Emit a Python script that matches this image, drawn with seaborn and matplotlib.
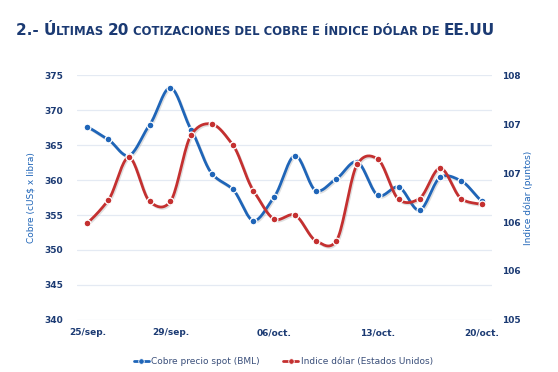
import numpy as np
import pandas as pd
import matplotlib
matplotlib.use("Agg")
import matplotlib.pyplot as plt
import matplotlib.patheffects as pe
from matplotlib.lines import Line2D
import seaborn as sns

# ---------- data ----------
fechas = ["25/sep.", "26/sep.", "27/sep.", "28/sep.", "29/sep.",
          "02/oct.", "03/oct.", "04/oct.", "05/oct.", "06/oct.",
          "09/oct.", "10/oct.", "11/oct.", "12/oct.", "13/oct.",
          "16/oct.", "17/oct.", "18/oct.", "19/oct.", "20/oct."]
cobre = [367.6, 365.8, 363.5, 367.9, 373.2, 367.2, 360.9, 358.7, 354.2, 357.6,
         363.5, 358.5, 360.2, 362.6, 357.8, 359.0, 355.7, 360.4, 359.9, 357.0]
dolar = [105.99, 106.22, 106.66, 106.21, 106.21, 106.89, 107.00, 106.79, 106.32, 106.03,
         106.07, 105.81, 105.81, 106.59, 106.64, 106.23, 106.24, 106.55, 106.24, 106.18]
xtick_idx = [0, 4, 9, 14, 19]
left_ticks = [340, 345, 350, 355, 360, 365, 370, 375]
right_ticks = [105, 105.5, 106, 106.5, 107, 107.5]
right_labels = ["105", "106", "106", "107", "107", "108"]

AZUL = "#1f65b8"
ROJO = "#c43030"
NAVY = "#1b3a73"

sns.set_theme(style="white")
plt.rcParams["font.family"] = ["DejaVu Sans"]


def suave(y, n=20, k=0.8):
    # smoothed (Hermite) curve through the points, like Excel's smoothed line
    y = np.asarray(y, float)
    x = np.arange(len(y))
    m = np.gradient(y) * k
    xs, ys = [], []
    for i in range(len(y) - 1):
        t = np.linspace(0, 1, n, endpoint=False)
        h00 = 2*t**3 - 3*t**2 + 1
        h10 = t**3 - 2*t**2 + t
        h01 = -2*t**3 + 3*t**2
        h11 = t**3 - t**2
        xs.append(x[i] + t)
        ys.append(h00*y[i] + h10*m[i] + h01*y[i+1] + h11*m[i+1])
    xs.append([x[-1]]); ys.append([y[-1]])
    return np.concatenate(xs), np.concatenate(ys)


fig = plt.figure(figsize=(5.58, 3.72), dpi=100)
ax = fig.add_axes([0.138, 0.14, 0.744, 0.658])
ax2 = ax.twinx()

sombra = [pe.SimpleLineShadow(offset=(0.8, -1.0), alpha=0.25, shadow_color="gray"), pe.Normal()]

# copper (left axis)
xc, yc = suave(cobre)
ax.plot(xc, yc, color=AZUL, lw=2, path_effects=sombra, zorder=3)
df = pd.DataFrame({"i": range(len(fechas)), "cobre": cobre, "dolar": dolar})
sns.scatterplot(data=df, x="i", y="cobre", ax=ax, color=AZUL, s=24,
                edgecolor="white", linewidth=0.9, zorder=4, legend=False)

# dollar index (right axis)
xd, yd = suave(dolar)
ax2.plot(xd, yd, color=ROJO, lw=2, path_effects=sombra, zorder=3)
sns.scatterplot(data=df, x="i", y="dolar", ax=ax2, color=ROJO, s=24,
                edgecolor="white", linewidth=0.9, zorder=4, legend=False)

ax.set_xlim(-0.5, 19.5)
ax.set_ylim(340, 375)
ax2.set_ylim(105, 107.5)
ax.set_yticks(left_ticks)
ax2.set_yticks(right_ticks)
ax2.set_yticklabels(right_labels)
ax.set_xticks(xtick_idx)
ax.set_xticklabels([fechas[i] for i in xtick_idx])
ax.set_xlabel("")
ax.set_ylabel("Cobre (cUS$ x libra)", color=AZUL, fontsize=6.5, labelpad=6)
ax2.set_ylabel("Indice dólar (puntos)", color=AZUL, fontsize=6.5, labelpad=2)
ax2.set_xlabel("")

ax.grid(axis="y", color="#e4eaf3", lw=0.9)
ax.grid(axis="x", visible=False)
ax2.grid(False)
for a in (ax, ax2):
    for s in a.spines.values():
        s.set_visible(False)
    a.tick_params(length=0, colors=NAVY, labelsize=6.5)
    for lab in a.get_xticklabels() + a.get_yticklabels():
        lab.set_fontweight("bold")
ax.tick_params(axis="y", pad=10)
ax2.tick_params(axis="y", pad=7)
ax.tick_params(axis="x", pad=6)

# legend
handles = [Line2D([], [], color=AZUL, lw=2, marker="o", ms=4, mec="white", mew=0.6),
           Line2D([], [], color=ROJO, lw=2, marker="o", ms=4, mec="white", mew=0.6)]
fig.legend(handles, ["Cobre precio spot (BML)", "Indice dólar (Estados Unidos)"],
           loc="center", bbox_to_anchor=(0.508, 0.027), ncol=2, frameon=False,
           fontsize=6.5, labelcolor="#3a4f7a", handlelength=1.6, handletextpad=0.3,
           columnspacing=2.6)

# title in small caps, built from pieces
partes = [("2.- Ú", 11.0), ("LTIMAS ", 8.4), ("20", 11.0),
          (" COTIZACIONES DEL COBRE E ÍNDICE DÓLAR DE ", 8.4), ("EE.UU", 11.0)]
r = fig.canvas.get_renderer()
x0 = 16
for txt, fs in partes:
    t = fig.text(x0 / 558, 1 - 35 / 372, txt, fontsize=fs, fontweight="bold",
                 color=NAVY, va="baseline", ha="left")
    x0 += t.get_window_extent(r).width

fig.savefig("out.png", dpi=100)
